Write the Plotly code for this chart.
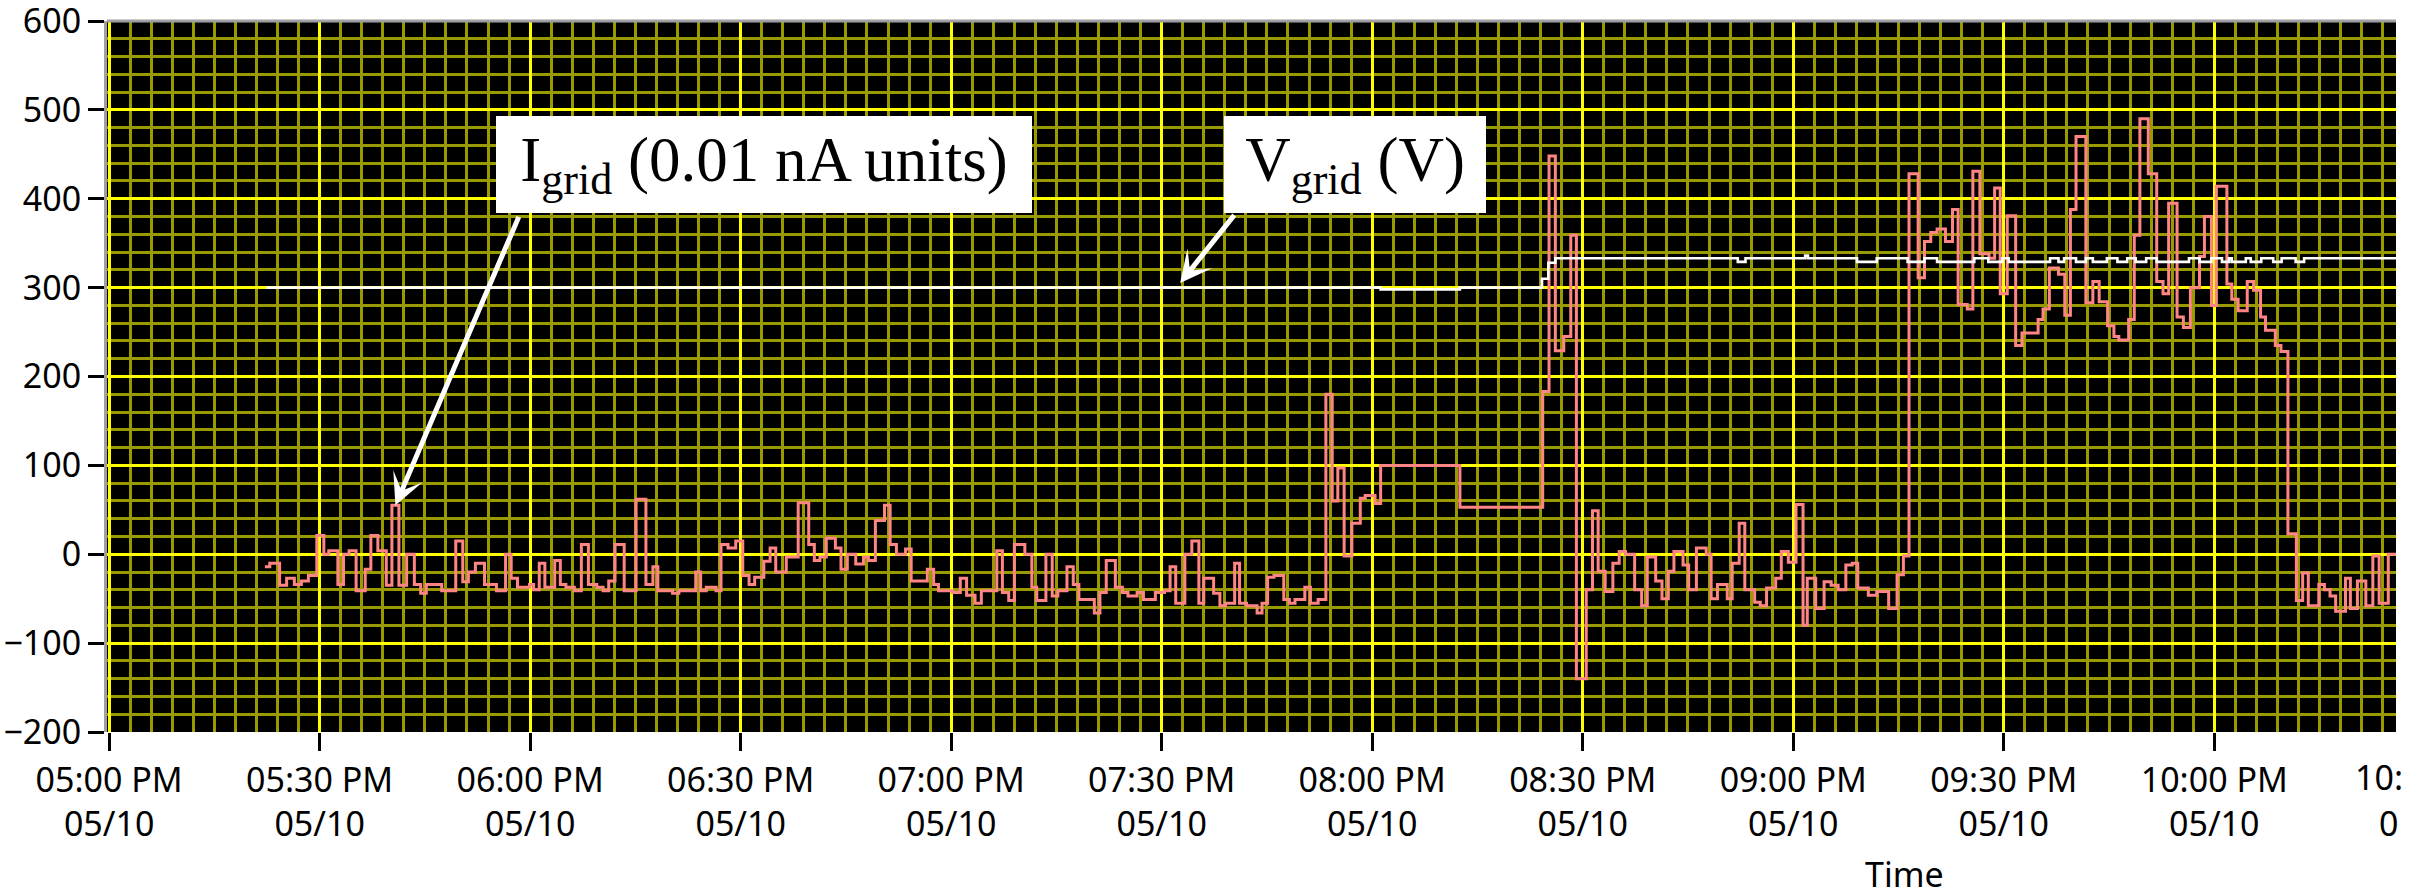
import plotly.graph_objects as go
import pandas as pd

# ---------------- data (minutes after 05:00 PM, 05/10) ----------------
i_minutes = [
    22.2, 22.9, 24.3, 25.3, 26.4, 27.4, 28.4, 29.6, 30.6, 31.3,
    32.6, 33.4, 34.2, 35.2, 36.5, 37.3, 38.3, 39.5, 40.3, 41.3,
    42.4, 43.5, 44.4, 45.2, 47.4, 49.4, 50.4, 51.2, 52.2, 53.5,
    55.2, 56.5, 57.3, 58.2, 59.9, 60.5, 61.3, 62.1, 63.5, 64.3,
    65.1, 66.3, 67.3, 68.3, 69.5, 70.4, 71.2, 72.1, 73.4, 75.1,
    76.5, 77.5, 78.2, 80.3, 81.2, 83.6, 84.3, 85.1, 86.5, 87.2,
    88.2, 89.3, 90.3, 91.2, 92.0, 93.3, 94.2, 95.0, 96.5, 98.2,
    99.7, 100.5, 101.3, 102.2, 103.5, 104.3, 105.2, 106.4, 107.5, 108.2,
    109.2, 110.5, 111.3, 112.2, 113.5, 114.3, 116.6, 117.5, 118.2, 120.2,
    121.3, 122.2, 123.4, 124.3, 126.5, 127.3, 128.2, 129.0, 130.5, 131.5,
    132.2, 133.5, 134.4, 135.2, 136.5, 137.4, 138.2, 140.4, 141.2, 142.1,
    143.4, 144.4, 145.2, 146.5, 147.4, 149.1, 150.4, 151.2, 152.0, 153.3,
    154.3, 155.3, 156.0, 157.4, 158.3, 159.1, 160.4, 161.1, 162.1, 163.6,
    164.3, 165.1, 166.0, 167.4, 168.2, 169.0, 170.4, 171.2, 172.3, 173.4,
    174.3, 175.1, 176.0, 177.1, 178.3, 179.0, 180.4, 181.2, 192.5, 204.3,
    205.2, 206.1, 207.3, 208.3, 209.1, 210.5, 211.4, 212.2, 213.2, 214.3,
    215.2, 216.1, 217.4, 218.4, 219.2, 220.4, 221.3, 222.2, 223.0, 224.3,
    225.1, 226.2, 227.6, 228.3, 229.2, 230.6, 231.3, 232.3, 233.1, 234.5,
    235.3, 236.2, 237.5, 238.3, 239.3, 240.4, 241.4, 242.0, 243.2, 244.4,
    245.4, 246.4, 247.5, 248.4, 249.2, 250.7, 251.9, 253.6, 254.8, 255.7,
    256.5, 257.8, 258.7, 259.6, 260.5, 261.7, 262.7, 263.5, 264.8, 265.6,
    266.6, 267.9, 268.7, 269.5, 270.5, 271.7, 272.6, 274.9, 275.6, 276.5,
    277.8, 278.7, 279.5, 280.3, 281.7, 282.7, 283.6, 284.8, 285.7, 286.4,
    287.8, 288.6, 289.4, 290.6, 291.8, 292.7, 293.5, 294.7, 295.6, 296.6,
    297.9, 298.6, 299.6, 300.3, 301.8, 302.5, 303.4, 304.7, 305.6, 306.6,
    307.3, 308.7, 309.5, 310.5, 311.7, 312.6, 313.4, 314.9, 315.7, 316.5,
    317.3, 318.7, 319.4, 320.4, 321.6, 322.6, 323.5, 324.8, 326.0,
]
i_values = [
    -14, -10, -35, -27, -34, -30, -24, 21, 0, 4,
    -34, 0, 4, -41, -17, 21, 4, -35, 55, -35,
    0, -34, -44, -34, -41, 15, -31, -20, -10, -34,
    -41, 0, -27, -37, -34, -40, -10, -37, -7, -34,
    -37, -41, 11, -34, -37, -41, -30, 11, -41, 62,
    -34, -14, -41, -44, -41, -20, -41, -37, -41, 11,
    7, 15, -24, -34, -26, -8, 7, -20, -3, 58,
    11, -7, -3, 18, 7, -17, 0, -11, -3, -7,
    38, 55, 11, 0, 6, -30, -17, -34, -41, -43,
    -27, -46, -55, -41, 4, -43, -52, 11, 0, -37,
    -52, 0, -47, -41, -14, -34, -51, -66, -43, -7,
    -37, -43, -47, -43, -51, -43, -41, -14, -55, 0,
    15, -55, -27, -44, -58, -55, -10, -55, -58, -66,
    -55, -26, -24, -51, -55, -51, -37, -55, -51, 180,
    60, 97, -2, 35, 63, 66, 57, 100, 53, 183,
    448, 229, 245, 359, -140, -40, 49, -19, -42, -10,
    3, 0, -40, -58, -3, -30, -50, -19, 3, -12,
    -40, 7, 0, -50, -34, -50, -10, 35, -40, -54,
    -58, -38, -27, 3, -9, 56, -80, -27, -61, -31,
    -35, -40, -12, -10, -38, -46, -42, -61, -23, -2,
    428, 311, 352, 362, 366, 352, 388, 281, 276, 431,
    338, 333, 412, 293, 381, 235, 249, 264, 276, 322,
    315, 269, 388, 470, 283, 307, 284, 257, 245, 241,
    264, 359, 490, 428, 307, 293, 395, 267, 255, 300,
    335, 380, 280, 414, 304, 287, 274, 307, 297, 267,
    252, 235, 228, 23, -52, -21, -58, -34, -40, -47,
    -64, -27, -61, -30, -58, -2, -55, 0, 0,
]

v_minutes = [
    22.4, 181.2, 192.5, 204.2, 205.1, 206.1, 232.1, 233.2, 241.7, 242.1,
    249.1, 251.9, 256.3, 258.7, 260.5, 265.8, 267.8, 269.8, 270.7, 276.6,
    277.8, 278.6, 280.3, 281.7, 282.7, 284.7, 286.2, 287.6, 288.8, 290.3,
    291.8, 296.4, 297.9, 299.6, 301.1, 302.1, 302.5, 304.5, 305.2, 306.7,
    308.4, 309.6, 311.6, 312.8, 326.0,
]
v_values = [
    300, 298, 300, 310, 328, 333, 329, 333, 336, 333,
    329, 333, 329, 333, 329, 333, 329, 333, 329, 333,
    329, 333, 329, 333, 329, 333, 329, 333, 329, 333,
    329, 333, 329, 333, 329, 333, 329, 333, 329, 333,
    329, 333, 329, 333, 333,
]

y_ticks = [-200, -100, 0, 100, 200, 300, 400, 500, 600]

BASE = pd.Timestamp("2019-05-10 17:00:00")


def to_time(mins):
    return [BASE + pd.Timedelta(minutes=m) for m in mins]


i_time = to_time(i_minutes)
v_time = to_time(v_minutes)

fig = go.Figure()
fig.add_trace(go.Scatter(x=i_time, y=i_values, mode="lines", name="I_grid",
                         line=dict(color="#FF8585", width=3, shape="hv")))
fig.add_trace(go.Scatter(x=v_time, y=v_values, mode="lines", name="V_grid",
                         line=dict(color="#FFFFFF", width=2.6, shape="hv")))

tick_font = dict(family="Noto Sans", size=34, color="black")

fig.update_layout(
    width=2422, height=891,
    margin=dict(l=107, r=26, t=21, b=159, autoexpand=False),
    paper_bgcolor="white", plot_bgcolor="black",
    showlegend=False,
    xaxis=dict(
        type="date", automargin=False,
        range=[BASE - pd.Timedelta(minutes=0.3), BASE + pd.Timedelta(minutes=325.9)],
        tick0=BASE, dtick=30 * 60 * 1000,
        tickformat="%I:%M %p<br>%m/%d",
        showgrid=True, gridcolor="#FFFF00", gridwidth=3,
        minor=dict(dtick=3 * 60 * 1000, tick0=BASE, showgrid=True,
                   gridcolor="#999900", gridwidth=2.6),
        ticks="outside", ticklen=18, tickwidth=3, tickcolor="black",
        tickfont=tick_font, zeroline=False, showline=False,
    ),
    yaxis=dict(
        range=[-200, 600], tickvals=y_ticks, automargin=False,
        showgrid=True, gridcolor="#FFFF00", gridwidth=3,
        minor=dict(dtick=20, showgrid=True, gridcolor="#999900", gridwidth=2.6),
        ticks="outside", ticklen=16, tickwidth=3, tickcolor="black",
        tickfont=tick_font, zeroline=False, ticklabeloverflow="allow",
        showline=True, linecolor="#A0A0A0", linewidth=3,
    ),
    shapes=[dict(type="line", xref="paper", yref="paper", x0=0, x1=1, y0=1, y1=1,
                 line=dict(color="#A0A0A0", width=3))],
)

# arrows pointing at the traces
peak_idx = 18
fig.add_annotation(x=BASE + pd.Timedelta(minutes=(i_minutes[peak_idx] + i_minutes[peak_idx + 1]) / 2),
                   y=i_values[peak_idx], xref="x", yref="y", text="",
                   showarrow=True, ax=124, ay=-290, arrowhead=3, arrowsize=1.05,
                   arrowwidth=5, arrowcolor="white", standoff=0)
fig.add_annotation(x=BASE + pd.Timedelta(minutes=152.1), y=v_values[0], xref="x", yref="y",
                   text="", showarrow=True, ax=59, ay=-74, arrowhead=3, arrowsize=1.05,
                   arrowwidth=5, arrowcolor="white", standoff=6)

label_font = dict(family="Liberation Serif", size=63, color="black")
fig.add_annotation(x=(764 - 107) / 2289, y=1 - (164.5 - 21) / 711, xref="paper", yref="paper",
                   text="I<sub>grid</sub> (0.01 nA units)", showarrow=False,
                   font=label_font, bgcolor="white", width=536, height=97, borderpad=0,
                   borderwidth=0, xanchor="center", yanchor="middle", align="center",
                   valign="middle")
fig.add_annotation(x=(1355 - 107) / 2289, y=1 - (164.5 - 21) / 711, xref="paper", yref="paper",
                   text="V<sub>grid</sub> (V)", showarrow=False,
                   font=label_font, bgcolor="white", width=262, height=97, borderpad=0,
                   borderwidth=0, xanchor="center", yanchor="middle", align="center",
                   valign="middle")

# partially visible last tick label (clipped at the plot edge)
fig.add_annotation(x=(2353 - 107) / 2289, y=-(777 - 732) / 711, xref="paper", yref="paper",
                   text="10:", showarrow=False, font=tick_font,
                   xanchor="left", yanchor="middle")
fig.add_annotation(x=(2377 - 107) / 2289, y=-(823 - 732) / 711, xref="paper", yref="paper",
                   text="0", showarrow=False, font=tick_font,
                   xanchor="left", yanchor="middle")

# axis title
fig.add_annotation(x=(1904 - 107) / 2289, y=-(874 - 732) / 711, xref="paper", yref="paper",
                   text="Time", showarrow=False, font=tick_font,
                   xanchor="center", yanchor="middle")

fig.write_html("out.html")
